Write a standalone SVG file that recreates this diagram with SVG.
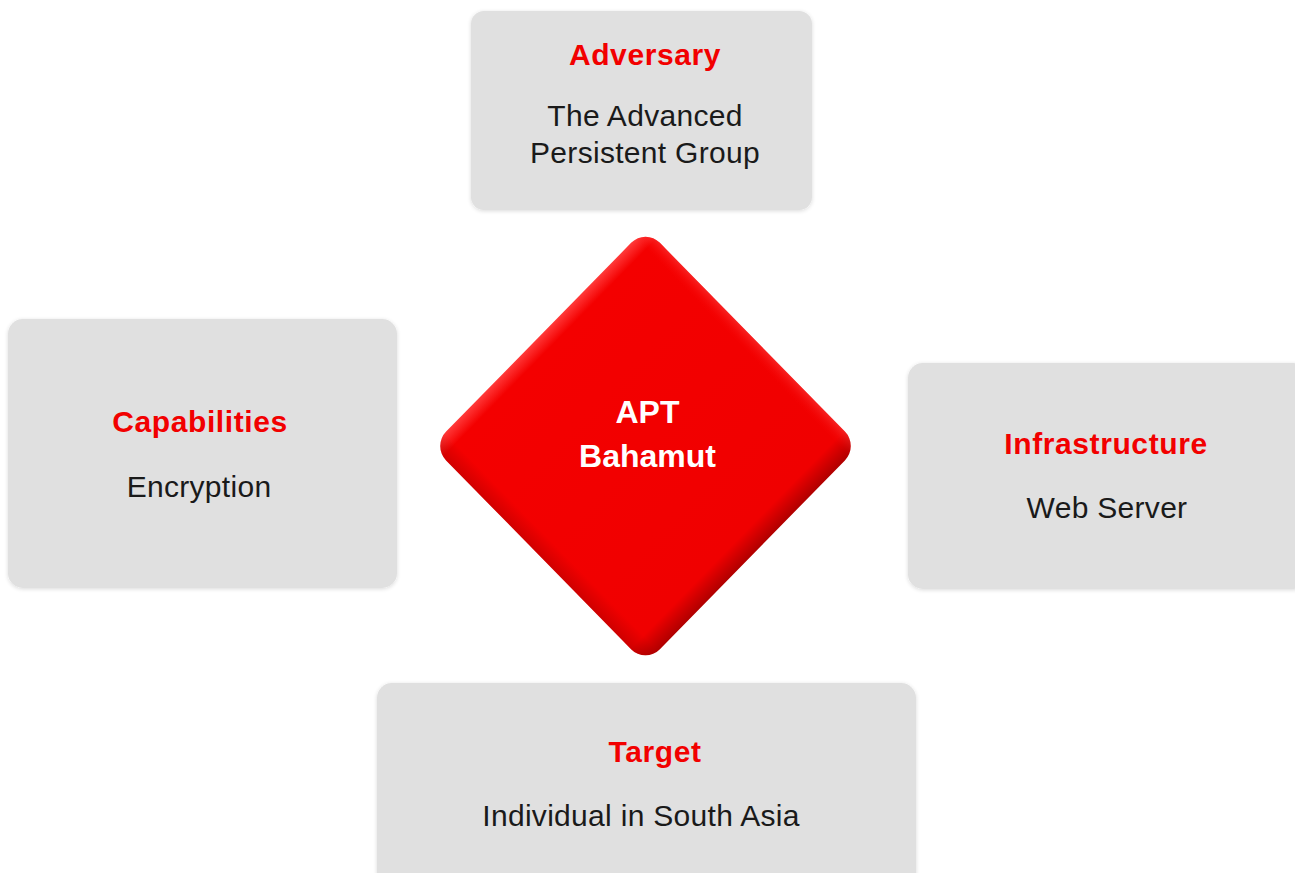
<svg xmlns="http://www.w3.org/2000/svg" width="1295" height="873" viewBox="0 0 1295 873">
<defs>
<style>
.box{fill:#e0e0e0}
.h{font-family:"Liberation Sans",Arial,sans-serif;font-weight:bold;font-size:30px;fill:#f20000;text-anchor:middle;letter-spacing:0.6px}
.t{font-family:"Liberation Sans",Arial,sans-serif;font-size:30px;fill:#1a1a1a;text-anchor:middle;letter-spacing:0.3px}
.w{font-family:"Liberation Sans",Arial,sans-serif;font-weight:bold;font-size:32px;fill:#ffffff;text-anchor:middle}
</style>
<linearGradient id="gx" x1="0" y1="0" x2="1" y2="0">
<stop offset="0" stop-color="#ff3a3a"/>
<stop offset="0.05" stop-color="#f40000"/>
<stop offset="0.93" stop-color="#f00000"/>
<stop offset="1" stop-color="#b00000"/>
</linearGradient>
<linearGradient id="gy" x1="0" y1="0" x2="0" y2="1">
<stop offset="0" stop-color="#ff6060" stop-opacity="0.35"/>
<stop offset="0.05" stop-color="#ff0000" stop-opacity="0"/>
<stop offset="0.94" stop-color="#900000" stop-opacity="0"/>
<stop offset="1" stop-color="#900000" stop-opacity="0.35"/>
</linearGradient>
<filter id="sh" x="-10%" y="-10%" width="120%" height="120%">
<feGaussianBlur in="SourceAlpha" stdDeviation="2"/>
<feOffset dx="0" dy="1"/>
<feComponentTransfer><feFuncA type="linear" slope="0.15"/></feComponentTransfer>
<feMerge><feMergeNode/><feMergeNode in="SourceGraphic"/></feMerge>
</filter>
</defs>
<rect width="1295" height="873" fill="#ffffff"/>
<g id="connectors"></g>
<g id="adversary">
<rect class="box" x="471" y="11" width="341" height="199" rx="13" filter="url(#sh)"/>
<text class="h" x="645" y="65">Adversary</text>
<text class="t" x="645" y="126">The Advanced</text>
<text class="t" x="645" y="163">Persistent Group</text>
</g>
<g id="capabilities">
<rect class="box" x="8" y="319" width="389" height="269" rx="15" filter="url(#sh)"/>
<text class="h" x="200" y="432">Capabilities</text>
<text class="t" x="199" y="497">Encryption</text>
</g>
<g id="infrastructure">
<rect class="box" x="908" y="363" width="400" height="226" rx="15" filter="url(#sh)"/>
<text class="h" x="1106" y="454">Infrastructure</text>
<text class="t" x="1107" y="518">Web Server</text>
</g>
<g id="target">
<rect class="box" x="377" y="683" width="539" height="210" rx="15" filter="url(#sh)"/>
<text class="h" x="655" y="762">Target</text>
<text class="t" x="641" y="826">Individual in South Asia</text>
</g>
<g id="apt" transform="translate(645.5,446) scale(1,1.02) rotate(45)">
<rect x="-151" y="-151" width="302" height="302" rx="20" fill="url(#gx)"/>
<rect x="-151" y="-151" width="302" height="302" rx="20" fill="url(#gy)"/>
</g>
<g id="apt-label">
<text class="w" x="647.5" y="423">APT</text>
<text class="w" x="647.5" y="467">Bahamut</text>
</g>
</svg>
